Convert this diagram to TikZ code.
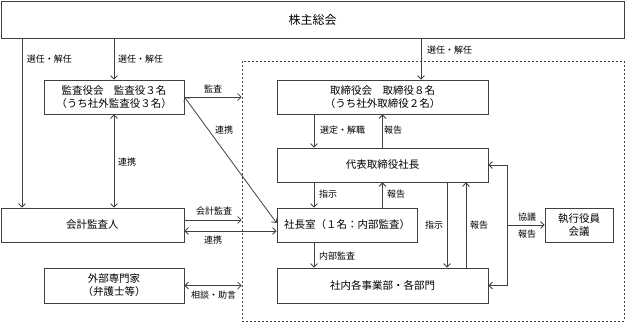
\documentclass[tikz,border=0pt]{standalone}
\usepackage{fontspec}
\newfontfamily\jp{Noto Sans CJK JP}
\usetikzlibrary{arrows.meta,positioning,calc}

\begin{document}
\begin{tikzpicture}[
      x=1pt, y=-1pt,
      font=\jp\fontsize{10.5}{13}\selectfont,
      >={Straight Barb[length=3.5pt,width=7pt]},
      block/.style={draw=black!75, line width=0.8pt, align=center, inner sep=0pt},
      group/.style={draw=black!75, line width=0.7pt, dash pattern=on 2pt off 2pt, inner sep=0pt},
      lbl/.style={font=\jp\fontsize{9}{10}\selectfont, inner sep=0pt},
      arrow/.style={->, draw=black!75, line width=0.8pt},
      both/.style={<->, draw=black!75, line width=0.8pt}
    ]
    \useasboundingbox (0,0) rectangle (625,322);

    % Boxes, left side
    \node[block, minimum width=623pt, minimum height=37pt, font=\jp\fontsize{12}{14}\selectfont] (share) at (312.5,19.5) {株主総会};
    \node[block, minimum width=140pt, minimum height=34pt] (kansa)  at (114,97)    {監査役会　監査役３名\\（うち社外監査役３名）};
    \node[block, minimum width=183pt, minimum height=34pt] (kaikei) at (92.5,225)  {会計監査人};
    \node[block, minimum width=140pt, minimum height=35pt] (gaibu)  at (114,285.5) {外部専門家\\（弁護士等）};

    % Boxes, company side
    \node[group, minimum width=382pt, minimum height=260pt] (grp) at (433,191) {};
    \node[block, minimum width=211pt, minimum height=34pt] (tori)   at (382.5,97)    {取締役会　取締役８名\\（うち社外取締役２名）};
    \node[block, minimum width=211pt, minimum height=34pt] (daihyo) at (382.5,165)   {代表取締役社長};
    \node[block, minimum width=140pt, minimum height=34pt] (shacho) at (347,225)     {社長室（１名：内部監査）};
    \node[block, minimum width=211pt, minimum height=35pt] (jigyo)  at (382.5,285.5) {社内各事業部・各部門};
    \node[block, minimum width=68pt,  minimum height=34pt] (shikko) at (579,225)     {執行役員\\会議};

    % Columns
    \coordinate (cA) at (22,0);
    \coordinate (cB) at (421,0);
    \coordinate (cC) at (314,0);
    \coordinate (cD) at (447,0);
    \coordinate (cE) at (466,0);
    \coordinate (cR) at (507,0);

    % Shareholders
    \draw[arrow] (share.south -| cA) -- (kaikei.north -| cA);
    \draw[arrow] (share.south -| kansa) -- (kansa.north);
    \draw[arrow] (share.south -| cB) -- (tori.north -| cB);
    \node[lbl] (l1) at (49.5,59)  {選任・解任};
    \node[lbl] (l2) at (140.5,59) {選任・解任};
    \node[lbl] (l3) at (449.5,50) {選任・解任};

    % Auditors
    \draw[arrow] (kansa.east) -- (grp.west |- kansa.east);
    \draw[both] (kansa.east) -- ($(shacho.west)+(0,-2)$);
    \draw[both] (kansa.south) -- (kaikei.north -| kansa);
    \draw[arrow] ($(kaikei.east)+(0,-5)$) -- (grp.west |- {$(kaikei.east)+(0,-5)$});
    \draw[both] ($(kaikei.east)+(0,6)$) -- (shacho.west |- {$(kaikei.east)+(0,6)$});
    \draw[both] (gaibu.east) -- (grp.west |- gaibu.east);
    \node[lbl] (l4) at (213,89)   {監査};
    \node[lbl] (l5) at (224,130)  {連携};
    \node[lbl] (l6) at (127,162)  {連携};
    \node[lbl] (l7) at (214,211)  {会計監査};
    \node[lbl] (l8) at (213,240)  {連携};
    \node[lbl] (l9) at (213.5,295) {相談・助言};

    % Management
    \draw[arrow] (tori.south -| cC) -- (daihyo.north -| cC);
    \draw[arrow] (daihyo.north) -- (tori.south);
    \draw[arrow] (daihyo.south -| cC) -- (shacho.north -| cC);
    \draw[arrow] (shacho.north -| daihyo) -- (daihyo.south);
    \draw[arrow] (shacho.south -| cC) -- (jigyo.north -| cC);
    \draw[arrow] (daihyo.south -| cD) -- (jigyo.north -| cD);
    \draw[arrow] (jigyo.north -| cE) -- (daihyo.south -| cE);
    \draw[both] (daihyo.east) -- (daihyo.east -| cR) -- (jigyo.east -| cR) -- (jigyo.east);
    \draw[arrow] (shikko.west -| cR) -- (shikko.west);
    \node[lbl] (m1) at (342.5,130) {選定・解職};
    \node[lbl] (m2) at (393,130)   {報告};
    \node[lbl] (m3) at (328,194)   {指示};
    \node[lbl] (m4) at (396,194)   {報告};
    \node[lbl] (m5) at (337,256)   {内部監査};
    \node[lbl] (m6) at (434,225)   {指示};
    \node[lbl] (m7) at (479,225)   {報告};
    \node[lbl] (m8) at (527,217)   {協議};
    \node[lbl] (m9) at (527,234)   {報告};
  \end{tikzpicture}
\end{document}
